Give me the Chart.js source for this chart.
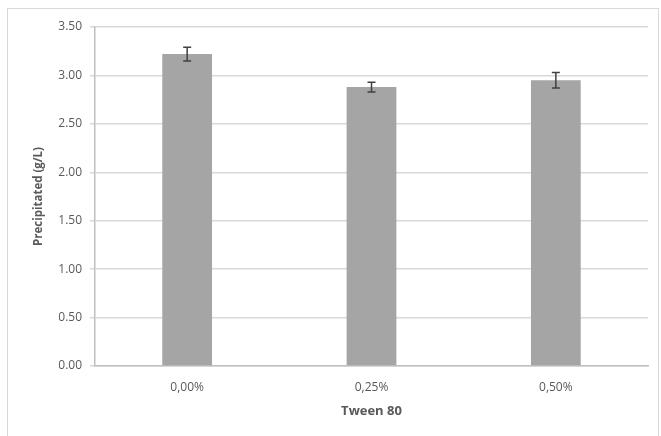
<!DOCTYPE html>
<html>
<head>
<meta charset="utf-8">
<script src="https://cdn.jsdelivr.net/npm/chart.js@4"></script>
<style>
  html, body { margin: 0; padding: 0; background: #fff; }
  #wrap { width: 661px; height: 436px; position: relative; }
</style>
</head>
<body>
<div id="wrap"><canvas id="chart" width="661" height="436"></canvas></div>
<script>
// Data
const categories = ['0,00%', '0,25%', '0,50%'];
const precipitated = [3.22, 2.88, 2.95];
const errors = [0.07, 0.05, 0.08];
const yTicks = [0, 0.5, 1, 1.5, 2, 2.5, 3, 3.5];

const grey = '#595959';

// frame around the whole chart
const framePlugin = {
  id: 'frame',
  beforeDraw(chart) {
    const c = chart.ctx;
    c.save();
    c.fillStyle = '#fff';
    c.fillRect(0, 0, chart.width, chart.height);
    c.strokeStyle = '#d9d9d9';
    c.lineWidth = 1;
    c.strokeRect(7.5, 8.5, 651, 440);
    c.restore();
  }
};

// error bars from the errors array
const errorBars = {
  id: 'errorBars',
  afterDatasetsDraw(chart) {
    const c = chart.ctx, y = chart.scales.y;
    const meta = chart.getDatasetMeta(0);
    c.save();
    c.strokeStyle = '#404040';
    c.lineWidth = 1.5;
    meta.data.forEach((bar, i) => {
      const v = precipitated[i], e = errors[i];
      const top = y.getPixelForValue(v + e), bot = y.getPixelForValue(v - e);
      c.beginPath();
      c.moveTo(bar.x, top); c.lineTo(bar.x, bot);
      c.moveTo(bar.x - 4, top); c.lineTo(bar.x + 4, top);
      c.moveTo(bar.x - 4, bot); c.lineTo(bar.x + 4, bot);
      c.stroke();
    });
    c.restore();
  }
};

new Chart(document.getElementById('chart'), {
  type: 'bar',
  data: {
    labels: categories,
    datasets: [{
      data: precipitated,
      backgroundColor: '#a5a5a5',
      barPercentage: 0.27,
      categoryPercentage: 1
    }]
  },
  options: {
    responsive: false,
    animation: false,
    layout: { padding: { top: 27, right: 13, left: 28, bottom: 0 } },
    plugins: { legend: { display: false }, tooltip: { enabled: false } },
    scales: {
      x: {
        afterFit(s) { s.height = 70; },
        grid: { display: false, drawTicks: false },
        border: { color: '#bfbfbf', width: 1.5 },
        ticks: { color: grey, font: { family: 'Open Sans', size: 12 }, padding: 14 },
        title: { display: true, text: 'Tween 80', color: grey, font: { family: 'Open Sans', size: 13, weight: 'bold' }, padding: { top: 0, bottom: 17 } }
      },
      y: {
        min: 0, max: 3.5,
        afterFit(s) { s.width = 67; },
        afterBuildTicks(s) { s.ticks = yTicks.map(v => ({ value: v })); },
        grid: { color: '#d9d9d9', lineWidth: 1.5, tickLength: 5 },
        border: { color: '#bfbfbf', width: 1.5 },
        ticks: { color: grey, font: { family: 'Open Sans', size: 12 }, padding: 8, callback: v => v.toFixed(2) },
        title: { display: true, text: 'Precipitated (g/L)', color: grey, font: { family: 'Open Sans', size: 11.5, weight: 'bold' }, padding: { top: 4, bottom: 0 } }
      }
    }
  },
  plugins: [framePlugin, errorBars]
});
</script>
</body>
</html>
